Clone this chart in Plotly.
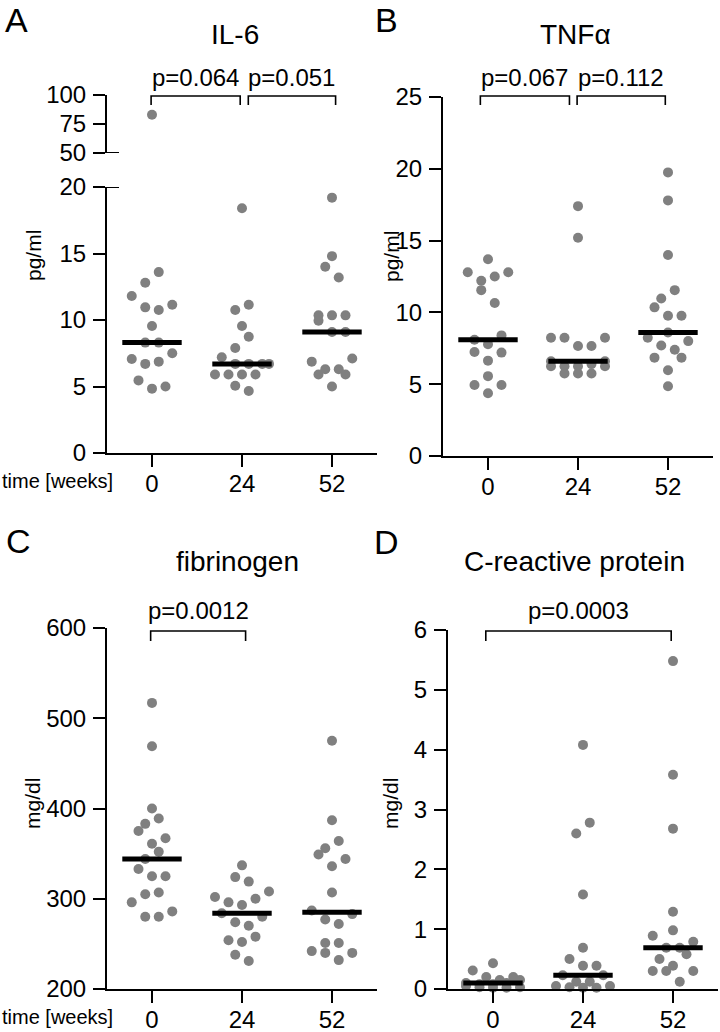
import numpy as np
import plotly.graph_objects as go

W, H = 720, 1032

# ---------------- data ----------------
weeks = ["0", "24", "52"]

il6_w0 = [83, 13.6, 12.8, 11.8, 11.15, 10.95, 10.75, 9.55, 8.3, 8.3, 7.5, 7.07, 6.87, 6.7, 5.46, 5.0, 4.84]
il6_w24 = [18.4, 11.15, 10.75, 9.55, 8.74, 7.9, 7.2, 6.7, 6.7, 6.7, 6.7, 5.9, 5.9, 5.9, 5.9, 5.06, 4.66]
il6_w52 = [19.2, 14.8, 14.0, 13.2, 10.35, 10.35, 10.35, 9.95, 9.1, 9.1, 7.1, 6.87, 6.3, 6.3, 5.9, 5.9, 5.0]

tnf_w0 = [13.7, 12.8, 12.8, 12.5, 12.2, 11.55, 10.65, 8.4, 8.1, 7.78, 7.24, 7.2, 6.64, 5.56, 4.95, 4.95, 4.37]
tnf_w24 = [17.4, 15.2, 8.24, 8.24, 8.24, 7.66, 7.66, 6.6, 6.6, 6.4, 6.25, 6.25, 6.25, 6.25, 5.74, 5.74, 5.74]
tnf_w52 = [19.75, 17.8, 14.0, 11.55, 10.97, 10.35, 9.77, 9.77, 8.6, 8.24, 8.0, 7.7, 7.4, 6.85, 6.85, 5.97, 4.86]

fib_w0 = [517, 469, 400, 389, 383, 375, 367, 361, 352, 344, 333, 325, 325, 307, 305, 296, 286, 280, 280]
fib_w24 = [337, 324, 319, 308, 302, 300, 296, 293, 284, 280, 274, 270, 258, 254, 252, 238, 231]
fib_w52 = [475, 387, 364, 356, 349, 344, 336, 307, 287, 283, 277, 272, 251, 251, 242, 240, 240, 232]

crp_w0 = [0.43, 0.31, 0.2, 0.2, 0.15, 0.15, 0.1, 0.1, 0.08, 0.08, 0.05, 0.03, 0.03, 0.02, 0.02]
crp_w24 = [4.08, 2.78, 2.6, 1.58, 0.69, 0.5, 0.39, 0.39, 0.23, 0.23, 0.12, 0.12, 0.05, 0.05, 0.03, 0.02, 0.02]
crp_w52 = [5.48, 3.58, 2.68, 1.29, 0.98, 0.89, 0.79, 0.69, 0.69, 0.58, 0.5, 0.39, 0.3, 0.3, 0.3, 0.12]

titles = ["IL-6", "TNFα", "fibrinogen", "C-reactive protein"]
letters = ["A", "B", "C", "D"]
units = ["pg/ml", "pg/ml", "mg/dl", "mg/dl"]
pvals_A = ["p=0.064", "p=0.051"]
pvals_B = ["p=0.067", "p=0.112"]
pvals_C = ["p=0.0012"]
pvals_D = ["p=0.0003"]

# ---------------- layout helpers ----------------
FONT = "Liberation Sans, Arial, Helvetica, sans-serif"
GREY = "#808080"
SPACING = 90.0  # px between groups


def px(x):
    return x / W


def py(y):
    return 1 - y / H


# segments: (vmin, vmax, screen_y_at_vmin, screen_y_at_vmax, yaxis id)
panels = [
    dict(groups=[il6_w0, il6_w24, il6_w52], left=107, xa="x", segs=[(0, 20, 453, 187, "y"), (50, 100, 153, 95, "y2")],
         title_xy=(235, 34), letter_xy=(16, 0), unit_xy=(33, 256),
         brackets=[(-0.01, 0.98), (1.07, 2.04)], pv=pvals_A, br_y=(96, 105), pv_y=77, time=True),
    dict(groups=[tnf_w0, tnf_w24, tnf_w52], left=443, xa="x2", segs=[(0, 25, 456, 97, "y3")],
         title_xy=(575, 34), letter_xy=(386, 0), unit_xy=(391, 256),
         brackets=[(-0.085, 0.905), (0.99, 1.97)], pv=pvals_B, br_y=(96, 105), pv_y=77, time=False),
    dict(groups=[fib_w0, fib_w24, fib_w52], left=107, xa="x3", segs=[(200, 600, 989, 628, "y4")],
         title_xy=(237, 561), letter_xy=(18, 521), unit_xy=(32, 804),
         brackets=[(-0.015, 1.04)], pv=pvals_C, br_y=(631, 641), pv_y=610, time=True),
    dict(groups=[crp_w0, crp_w24, crp_w52], left=448, xa="x4", segs=[(0, 6, 989, 630, "y5")],
         title_xy=(574, 561), letter_xy=(386, 522), unit_xy=(390, 804),
         brackets=[(-0.08, 1.98)], pv=pvals_D, br_y=(631, 641), pv_y=610, time=False),
]


def seg_for(p, v):
    for s in p["segs"]:
        if s[0] <= v <= s[1] * 1.0001:
            return s
    return p["segs"][-1] if v > p["segs"][-1][1] else p["segs"][0]


def to_screen(p, v):
    s = seg_for(p, v)
    return s[2] + (v - s[0]) / (s[1] - s[0]) * (s[3] - s[2])


def swarm(heights, D=13.5, hbin=15, maxrow=5):
    order = np.argsort(heights, kind="stable")
    bins = []
    for i in order:
        if bins and heights[i] - heights[bins[-1][0]] < hbin and len(bins[-1]) < maxrow:
            bins[-1].append(i)
        else:
            bins.append([i])
    offs = np.zeros(len(heights))
    for bi, b in enumerate(bins):
        m = len(b)
        slots = [(k - (m - 1) / 2) * D for k in range(m)]
        sign = 1 if bi % 2 == 0 else -1
        slots = sorted(slots, key=lambda s: (abs(s), -sign * s))
        for idx, s in zip(b, slots):
            offs[idx] = s
    return offs


fig = go.Figure()
layout = dict(template="none", width=W, height=H, autosize=False,
              margin=dict(l=0, r=0, t=0, b=0, pad=0, autoexpand=False),
              paper_bgcolor="white", plot_bgcolor="white", showlegend=False,
              font=dict(family=FONT, color="black"))

axis_common = dict(showline=True, linecolor="black", linewidth=2, ticks="outside", ticklen=12,
                   tickwidth=2, tickcolor="black", showgrid=False, zeroline=False, automargin=False,
                   tickfont=dict(size=24, family=FONT, color="black"), fixedrange=True)

annotations = []
shapes = []

for pi, p in enumerate(panels):
    xa = p["xa"]
    xnum = xa[1:] or ""
    xkey = "xaxis" + xnum
    first_y = p["segs"][0][4]
    layout[xkey] = dict(axis_common, domain=[px(p["left"]), px(p["left"] + 3 * SPACING)],
                        range=[-0.5, 2.5], tickvals=[0, 1, 2], ticktext=weeks, anchor=first_y,
                        ticklabelstandoff=-4)
    for (v0, v1, s0, s1, ya) in p["segs"]:
        ykey = "yaxis" + ya[1:]
        if v1 - v0 == 20:
            tv = list(range(0, 21, 5))
        elif v1 - v0 == 50:
            tv = [50, 75, 100]
        elif v1 - v0 == 25:
            tv = list(range(0, 26, 5))
        elif v1 - v0 == 400:
            tv = list(range(200, 601, 100))
        else:
            tv = list(range(0, 7))
        layout[ykey] = dict(axis_common, domain=[py(s0), py(s1)], range=[v0, v1], tickvals=tv,
                            anchor=xa, ticklabelstandoff=2)

    # points + medians
    for gi, vals in enumerate(p["groups"]):
        vals = np.array(vals, dtype=float)
        scr = np.array([to_screen(p, v) for v in vals])
        offs = swarm(-scr) / SPACING
        for (v0, v1, s0, s1, ya) in p["segs"]:
            mask = (vals >= v0) & (vals <= v1 * 1.0001)
            if mask.any():
                fig.add_trace(go.Scatter(x=gi + offs[mask], y=vals[mask], mode="markers", xaxis=xa, yaxis=ya,
                                         marker=dict(size=10, color=GREY, line=dict(width=0)),
                                         hoverinfo="y", cliponaxis=False))
        med = float(np.median(vals))
        ya_med = seg_for(p, med)[4]
        fig.add_trace(go.Scatter(x=[gi - 0.33, gi + 0.33], y=[med, med], mode="lines", xaxis=xa, yaxis=ya_med,
                                 line=dict(color="black", width=5), hoverinfo="skip"))

    # texts
    tx, ty = p["title_xy"]
    annotations.append(dict(text=titles[pi], x=px(tx), y=py(ty), xref="paper", yref="paper", showarrow=False,
                            xanchor="center", yanchor="middle", font=dict(size=28)))
    lx, ly = p["letter_xy"]
    annotations.append(dict(text=letters[pi], x=px(lx), y=py(ly), xref="paper", yref="paper", showarrow=False,
                            xanchor="center", yanchor="top", borderpad=0, font=dict(size=34)))
    ux, uy = p["unit_xy"]
    annotations.append(dict(text=units[pi], x=px(ux), y=py(uy), xref="paper", yref="paper", showarrow=False,
                            xanchor="center", yanchor="middle", textangle=-90, font=dict(size=21)))
    if p["time"]:
        annotations.append(dict(text="time [weeks]", x=px(57), y=py(p["segs"][0][2] + 28), xref="paper",
                                yref="paper", showarrow=False, xanchor="center", yanchor="middle",
                                font=dict(size=20)))
    # brackets
    top, bot = p["br_y"]
    for (a, b), label in zip(p["brackets"], p["pv"]):
        shapes.append(dict(type="path", xref=xa, yref="paper",
                           path=f"M {a},{py(bot)} L {a},{py(top)} L {b},{py(top)} L {b},{py(bot)}",
                           line=dict(color="black", width=1.6)))
        annotations.append(dict(text=label, x=(a + b) / 2, y=py(p["pv_y"]), xref=xa, yref="paper",
                                showarrow=False, xanchor="center", yanchor="middle", font=dict(size=24)))

# axis break caps for panel A
for ya, v in (("y", 20), ("y2", 50)):
    shapes.append(dict(type="line", xref="paper", yref=ya, x0=px(107), x1=px(119), y0=v, y1=v,
                       line=dict(color="black", width=2)))

layout["annotations"] = annotations
layout["shapes"] = shapes
fig.update_layout(**layout)
fig.write_html("out.html", config={"displayModeBar": False},
               post_script="document.body.style.margin='0';document.body.style.overflow='hidden';")
